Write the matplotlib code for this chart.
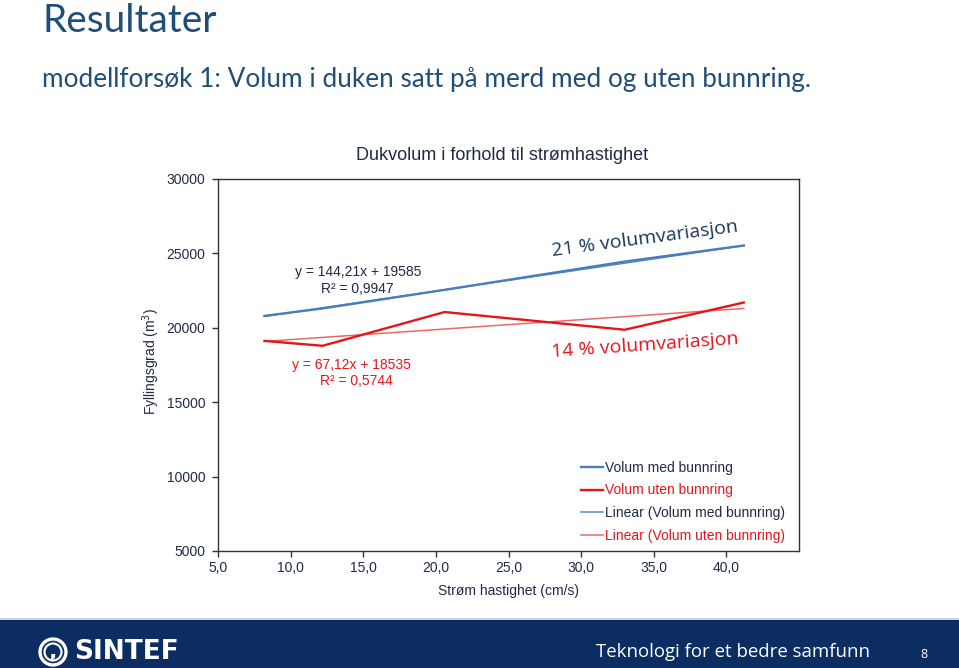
import numpy as np
import matplotlib.pyplot as plt
from matplotlib.patches import Rectangle, Circle

# Data
stroem = [8.2, 12.2, 20.6, 33.0, 41.2]
volum_med = [20800, 21300, 22550, 24450, 25530]
volum_uten = [19120, 18790, 21060, 19870, 21700]

# Trendline coefficients shown on the chart
trend_med = (144.21, 19585)
trend_uten = (67.12, 18535)

x_ticks = [5, 10, 15, 20, 25, 30, 35, 40]
y_ticks = [5000, 10000, 15000, 20000, 25000, 30000]

navy = '#17375E'
tekst = '#1F2A44'
blaa = '#4A7EBB'
roed = '#E3161C'
blaa_trend = '#5A8AC6'
roed_trend = '#E86A6A'

fig = plt.figure(figsize=(9.59, 6.68), dpi=100)
fig.patch.set_facecolor('white')

# Slide heading
fig.text(42 / 959, 1 - 21 / 668, 'Resultater', family='Lato', fontsize=28,
         color='#1F4E79', va='center', ha='left')
fig.text(42 / 959, 1 - 80 / 668,
         'modellforsøk 1: Volum i duken satt på merd med og uten bunnring.',
         family='Lato', fontsize=18.8, color='#1F4E79', va='center', ha='left')

ax = fig.add_axes([218 / 959, 1 - 551 / 668, (799 - 218) / 959, (551 - 179) / 668])

ax.plot(stroem, volum_med, color=blaa, lw=1.7, label='Volum med bunnring', zorder=3)
ax.plot(stroem, volum_uten, color=roed, lw=1.7, label='Volum uten bunnring', zorder=3)

xs = np.array([stroem[0], stroem[-1]])
ax.plot(xs, trend_med[0] * xs + trend_med[1], color=blaa_trend, lw=1.1,
        label='Linear (Volum med bunnring)', zorder=2)
ax.plot(xs, trend_uten[0] * xs + trend_uten[1], color=roed_trend, lw=1.1,
        label='Linear (Volum uten bunnring)', zorder=2)

ax.set_xlim(5, 45)
ax.set_ylim(5000, 30000)
ax.set_xticks(x_ticks)
ax.set_yticks(y_ticks)
ax.set_xticklabels(['{:.1f}'.format(v).replace('.', ',') for v in x_ticks])
ax.set_yticklabels([str(v) for v in y_ticks])

for sp in ax.spines.values():
    sp.set_color('#333333')
    sp.set_linewidth(1.0)
ax.tick_params(direction='out', length=4, width=1, colors='#333333',
               labelcolor=tekst, labelsize=10)
ax.tick_params(axis='y', pad=5)
for lab in ax.get_xticklabels() + ax.get_yticklabels():
    lab.set_family('Liberation Sans')

# Chart title, slightly left of the plot centre as in the original
fig.text(502 / 959, 1 - 156 / 668, 'Dukvolum i forhold til strømhastighet',
         family='Liberation Sans', fontsize=13, color=tekst, ha='center', va='center')
ax.set_xlabel('Strøm hastighet (cm/s)', family='Liberation Sans', fontsize=10,
              color=tekst, labelpad=6)
ax.set_ylabel('Fyllingsgrad (m$^3$)', family='Liberation Sans', fontsize=10,
              color=tekst, labelpad=0)
ax.yaxis.set_label_coords(-56 / 581, 0.51)

# Trendline equations
ax.text(10.3, 23760, 'y = 144,21x + 19585', family='Liberation Sans', fontsize=10,
        color=tekst, ha='left', va='center')
ax.text(12.1, 22620, 'R² = 0,9947', family='Liberation Sans', fontsize=10,
        color=tekst, ha='left', va='center')
ax.text(10.1, 17500, 'y = 67,12x + 18535', family='Liberation Sans', fontsize=10,
        color=roed, ha='left', va='center')
ax.text(12.0, 16430, 'R² = 0,5744', family='Liberation Sans', fontsize=10,
        color=roed, ha='left', va='center')

ax.text(34.4, 26000, '21 % volumvariasjon', family='Open Sans', fontsize=14,
        color=navy, ha='center', va='center', rotation=7.5)
ax.text(34.4, 18800, '14 % volumvariasjon', family='Open Sans', fontsize=14,
        color=roed, ha='center', va='center', rotation=4)

leg = ax.legend(loc='lower right', bbox_to_anchor=(0.99, 0.0), frameon=False,
                prop={'family': 'Liberation Sans', 'size': 10},
                handlelength=1.6, handletextpad=0.1, labelspacing=0.62,
                borderaxespad=0.2)
for t, c in zip(leg.get_texts(), [tekst, roed, tekst, roed]):
    t.set_color(c)

# Footer band, drawn in pixel units
fax = fig.add_axes([0, 0, 1, 50 / 668])
fax.set_xlim(0, 959)
fax.set_ylim(0, 50)
fax.axis('off')
fax.add_patch(Rectangle((0, 0), 959, 48, facecolor='#0B2D62', edgecolor='none'))
fax.add_patch(Rectangle((0, 48), 959, 2, facecolor='#C9D3E3', edgecolor='none'))
fax.add_patch(Circle((53, 16), 13, facecolor='none', edgecolor='white', lw=2.4))
fax.add_patch(Circle((53, 16), 8.5, facecolor='none', edgecolor='white', lw=1.6))
fax.text(53, 16, ',', family='DejaVu Sans', fontsize=16, color='white',
         weight='bold', ha='center', va='center')
fax.text(74, 16, 'SINTEF', family='DejaVu Sans', fontsize=19, color='white',
         weight='bold', ha='left', va='center')
fax.text(596, 16, 'Teknologi for et bedre samfunn', family='Open Sans',
         fontsize=13.4, color='white', ha='left', va='center')
fax.text(924, 14, '8', family='Open Sans', fontsize=9, color='white',
         ha='center', va='center')

fig.savefig('out.png', dpi=100, facecolor='white')
